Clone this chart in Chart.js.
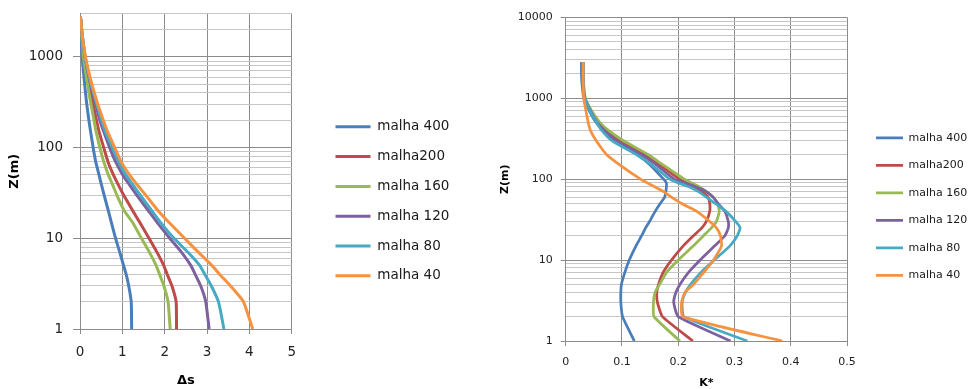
<!DOCTYPE html>
<html>
<head>
<meta charset="utf-8">
<script src="https://cdn.jsdelivr.net/npm/chart.js@4.4.0/dist/chart.umd.min.js"></script>
<style>
html, body { margin: 0; padding: 0; background: #fff; overflow: hidden; width: 971px; height: 389px; }
#boxDelta { position: absolute; left: 0; top: 0; width: 480px; height: 389px; }
#boxKappa { position: absolute; left: 480px; top: 0; width: 510px; height: 396px; }
</style>
</head>
<body>
<div id="boxDelta"><canvas id="chartDelta"></canvas></div>
<div id="boxKappa"><canvas id="chartKappa"></canvas></div>
<script>
// series names and colours (same for both panels)
var seriesNames = ['malha 400', 'malha200', 'malha 160', 'malha 120', 'malha 80', 'malha 40'];
var seriesColors = ['#4a7ebb', '#be4b48', '#98b954', '#7d60a0', '#46aac5', '#f69240'];

// left panel: delta s against height
var zDelta = [1, 2, 3, 4, 5, 7, 10, 15, 20, 30, 40, 50, 70, 100, 150, 200, 300, 400, 500, 700, 1000, 1500, 2000, 2800];
var dsM400 = [1.22, 1.21, 1.15, 1.09, 1.03, 0.94, 0.84, 0.74, 0.67, 0.57, 0.50, 0.45, 0.37, 0.31, 0.25, 0.21, 0.16, 0.13, 0.11, 0.08, 0.05, 0.03, 0.02, 0.01];
var dsM200 = [2.28, 2.27, 2.17, 2.06, 1.98, 1.82, 1.63, 1.41, 1.25, 1.03, 0.89, 0.79, 0.66, 0.56, 0.45, 0.39, 0.31, 0.25, 0.21, 0.15, 0.10, 0.06, 0.03, 0.01];
var dsM160 = [2.13, 2.08, 1.98, 1.88, 1.80, 1.64, 1.45, 1.24, 1.05, 0.87, 0.76, 0.67, 0.56, 0.47, 0.38, 0.33, 0.26, 0.21, 0.18, 0.13, 0.08, 0.05, 0.03, 0.01];
var dsM120 = [3.05, 2.97, 2.85, 2.72, 2.62, 2.40, 2.12, 1.82, 1.62, 1.34, 1.15, 1.01, 0.84, 0.70, 0.56, 0.47, 0.37, 0.30, 0.25, 0.18, 0.12, 0.07, 0.04, 0.01];
var dsM80 = [3.40, 3.27, 3.10, 2.95, 2.83, 2.55, 2.22, 1.90, 1.70, 1.42, 1.23, 1.08, 0.91, 0.76, 0.60, 0.51, 0.40, 0.32, 0.26, 0.19, 0.12, 0.07, 0.04, 0.01];
var dsM40 = [4.08, 3.86, 3.55, 3.30, 3.12, 2.80, 2.47, 2.10, 1.85, 1.55, 1.33, 1.17, 0.97, 0.82, 0.65, 0.55, 0.42, 0.34, 0.28, 0.20, 0.13, 0.07, 0.04, 0.01];

// right panel: K* against height
var zKappa = [1, 2, 3, 4, 5, 7, 10, 15, 20, 25, 30, 40, 50, 60, 70, 80, 90, 100, 150, 200, 300, 400, 500, 700, 1000, 1500, 2000, 2800];
var kM400 = [0.122, 0.101, 0.098, 0.098, 0.099, 0.105, 0.113, 0.125, 0.135, 0.142, 0.149, 0.159, 0.168, 0.176, 0.178, 0.179, 0.179, 0.174, 0.150, 0.128, 0.087, 0.066, 0.054, 0.042, 0.032, 0.029, 0.028, 0.028];
var kM200 = [0.226, 0.172, 0.163, 0.162, 0.165, 0.173, 0.188, 0.209, 0.227, 0.242, 0.250, 0.256, 0.256, 0.253, 0.243, 0.230, 0.214, 0.202, 0.167, 0.141, 0.096, 0.071, 0.057, 0.044, 0.034, 0.031, 0.031, 0.031];
var kM160 = [0.203, 0.157, 0.156, 0.159, 0.167, 0.179, 0.200, 0.227, 0.245, 0.259, 0.268, 0.273, 0.270, 0.262, 0.250, 0.238, 0.224, 0.211, 0.173, 0.147, 0.102, 0.076, 0.061, 0.046, 0.035, 0.032, 0.031, 0.031];
var kM120 = [0.293, 0.200, 0.192, 0.196, 0.203, 0.218, 0.239, 0.265, 0.283, 0.289, 0.289, 0.283, 0.271, 0.262, 0.250, 0.232, 0.212, 0.193, 0.161, 0.135, 0.090, 0.069, 0.056, 0.044, 0.034, 0.031, 0.031, 0.031];
var kM80 = [0.323, 0.210, 0.207, 0.213, 0.222, 0.240, 0.264, 0.292, 0.305, 0.310, 0.302, 0.285, 0.266, 0.250, 0.236, 0.220, 0.200, 0.185, 0.153, 0.126, 0.082, 0.064, 0.055, 0.043, 0.034, 0.031, 0.031, 0.031];
var kM40 = [0.385, 0.208, 0.206, 0.212, 0.227, 0.245, 0.263, 0.277, 0.275, 0.268, 0.256, 0.233, 0.206, 0.188, 0.174, 0.159, 0.145, 0.133, 0.096, 0.073, 0.054, 0.044, 0.040, 0.036, 0.032, 0.031, 0.031, 0.031];

// axis ticks
var deltaTicks = [0, 1, 2, 3, 4, 5];
var kappaTicks = [0, 0.1, 0.2, 0.3, 0.4, 0.5];
var zLabelsDelta = [1, 10, 100, 1000];
var zLabelsKappa = [1, 10, 100, 1000, 10000];

Chart.defaults.font.family = 'DejaVu Sans';
Chart.defaults.color = '#222';

var majorGrid = '#8c8c8c';
var minorGrid = '#c6c6c6';

// 1..9 per decade, closed by the axis maximum
function logTicks(decades, max)
{
	var t = [];
	decades.forEach(function(d)
	{
		for (var m = 1; m < 10; m++)
			if (d * m <= max) t.push(d * m);
	});
	if (t[t.length - 1] !== max) t.push(max);
	return t;
}

function isDecade(v)
{
	var l = Math.log10(v);
	return Math.abs(l - Math.round(l)) < 1e-9;
}

// width the legend box will take, so the plot can stop at plotRight
function legendWidth(cfg)
{
	var ctx = document.createElement('canvas').getContext('2d');
	ctx.font = cfg.legendFont + 'px DejaVu Sans';
	var w = 0;
	seriesNames.forEach(function(n) { w = Math.max(w, ctx.measureText(n).width); });
	return cfg.legendGap + cfg.legendLine + cfg.legendFont / 2 + w + 10;
}

function buildSets(zs, lists, width)
{
	return lists.map(function(list, i)
	{
		return {
			label: seriesNames[i],
			data: zs.map(function(z, j) { return {x: list[j], y: z}; }),
			borderColor: seriesColors[i],
			backgroundColor: seriesColors[i],
			borderWidth: width,
			showLine: true,
			pointRadius: 0,
			pointHoverRadius: 0,
			tension: 0.15,
			borderJoinStyle: 'round',
			order: lists.length - i
		};
	});
}

function buildChart(id, cfg)
{
	var zTicks = logTicks(cfg.zLabels, cfg.zMax);
	var padRight = cfg.width - cfg.plotRight - cfg.gap - legendWidth(cfg);
	return new Chart(document.getElementById(id), {
		type: 'scatter',
		data: { datasets: buildSets(cfg.z, cfg.series, cfg.lineWidth) },
		options: {
			responsive: true,
			maintainAspectRatio: false,
			animation: false,
			devicePixelRatio: 1,
			events: [],
			layout: { padding: { left: 0, top: cfg.top, right: padRight, bottom: 0 } },
			plugins: {
				tooltip: { enabled: false },
				legend: {
					position: 'right',
					align: 'center',
					maxWidth: 400,
					labels: {
						usePointStyle: true,
						pointStyle: 'line',
						pointStyleWidth: cfg.legendLine,
						padding: cfg.legendGap,
						color: '#1a1a1a',
						font: { size: cfg.legendFont },
						sort: function(a, b) { return a.datasetIndex - b.datasetIndex; }
					}
				}
			},
			scales: {
				x: {
					type: 'linear',
					min: cfg.xTicks[0],
					max: cfg.xTicks[cfg.xTicks.length - 1],
					afterBuildTicks: function(s) { s.ticks = cfg.xTicks.map(function(v) { return {value: v}; }); },
					afterFit: function(s) { s.height = cfg.xHeight; },
					ticks: {
						padding: cfg.xPad,
						font: { size: cfg.tickFont },
						callback: function(v) { return String(v); }
					},
					grid: { color: majorGrid, tickColor: majorGrid, tickLength: 5 },
					border: { color: majorGrid },
					title: {
						display: true,
						text: cfg.xTitle,
						color: '#000',
						font: { size: cfg.titleFont, weight: 'bold' },
						padding: { top: 0, bottom: cfg.xTitlePad }
					}
				},
				y: {
					type: 'logarithmic',
					min: 1,
					max: cfg.zMax,
					afterBuildTicks: function(s) { s.ticks = zTicks.map(function(v) { return {value: v}; }); },
					afterFit: function(s)
					{
						s.width = cfg.yWidth;
						s.paddingTop = 0;
						s.paddingBottom = 0;
					},
					ticks: {
						autoSkip: false,
						padding: cfg.yPad,
						font: { size: cfg.tickFont },
						callback: function(v) { return cfg.zLabels.indexOf(v) >= 0 ? String(v) : ''; }
					},
					grid: {
						color: function(c) { return isDecade(c.tick.value) ? majorGrid : minorGrid; },
						tickColor: function(c) { return isDecade(c.tick.value) ? majorGrid : 'rgba(0,0,0,0)'; },
						tickLength: cfg.yTick
					},
					border: { color: majorGrid },
					title: {
						display: true,
						text: 'Z(m)',
						color: '#000',
						font: { size: cfg.titleFont, weight: 'bold' },
						padding: { top: cfg.yTitlePad, bottom: 0 }
					}
				},
				// empty strip between the plot and the legend
				gap: {
					position: 'right',
					display: true,
					grid: { display: false },
					ticks: { display: false },
					border: { display: false },
					afterFit: function(s) { s.width = cfg.gap; }
				}
			}
		}
	});
}

buildChart('chartDelta', {
	z: zDelta, series: [dsM400, dsM200, dsM160, dsM120, dsM80, dsM40],
	xTicks: deltaTicks, xTitle: '\u0394s', zLabels: zLabelsDelta, zMax: 3000,
	width: 480, plotRight: 291.7, top: 13.6, gap: 27.5,
	lineWidth: 3, legendLine: 35, legendGap: 16.3, legendFont: 13.5,
	tickFont: 13.5, titleFont: 13, xHeight: 60, yWidth: 80,
	xPad: 10, yPad: 10, yTick: 7, xTitlePad: 1, yTitlePad: 7
});

buildChart('chartKappa', {
	z: zKappa, series: [kM400, kM200, kM160, kM120, kM80, kM40],
	xTicks: kappaTicks, xTitle: 'K*', zLabels: zLabelsKappa, zMax: 10000,
	width: 510, plotRight: 367, top: 17.3, gap: 12.5,
	lineWidth: 2.75, legendLine: 27, legendGap: 16.5, legendFont: 11,
	tickFont: 11, titleFont: 11, xHeight: 55, yWidth: 85.7,
	xPad: 9.5, yPad: 8, yTick: 5, xTitlePad: 6.4, yTitlePad: 18.4
});
</script>
</body>
</html>
